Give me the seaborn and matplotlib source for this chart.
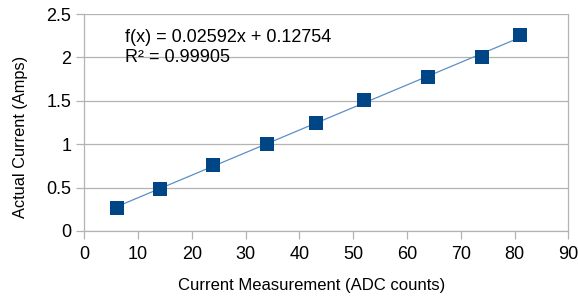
import matplotlib
matplotlib.use("Agg")
import matplotlib.pyplot as plt
import seaborn as sns
import numpy as np
import pandas as pd

adc_counts = [6, 14, 24, 34, 43, 52, 64, 74, 81]
actual_amps = [0.268, 0.487, 0.757, 1.006, 1.241, 1.509, 1.770, 2.008, 2.254]
x_ticks = [0, 10, 20, 30, 40, 50, 60, 70, 80, 90]
y_ticks = [0, 0.5, 1, 1.5, 2, 2.5]
y_tick_labels = ["0", "0.5", "1", "1.5", "2", "2.5"]
equation_text = "f(x) = 0.02592x + 0.12754\nR² = 0.99905"

sns.set_theme(style="white")
plt.rcParams['font.family'] = ['Liberation Sans', 'DejaVu Sans']

df = pd.DataFrame({"x": adc_counts, "y": actual_amps})

fig = plt.figure(figsize=(5.78, 3.02), dpi=100)
ax = fig.add_axes([0.1459, 0.2351, 0.8373, 0.7185])

sns.regplot(data=df, x="x", y="y", ax=ax, ci=None, scatter=False,
            line_kws=dict(color="#5b8fc7", lw=0.9), truncate=True)
sns.scatterplot(data=df, x="x", y="y", ax=ax, marker="s", s=100,
                color="#004586", edgecolor="#004586", linewidth=0, zorder=3)

ax.set_xlim(0, 90)
ax.set_ylim(0, 2.5)
ax.set_xticks(x_ticks)
ax.set_yticks(y_ticks)
ax.set_yticklabels(y_tick_labels)
ax.yaxis.grid(True, color="#b3b3b3", lw=0.9)
ax.xaxis.grid(False)
ax.set_axisbelow(True)
for side in ["left", "bottom", "right"]:
    ax.spines[side].set_visible(True)
    ax.spines[side].set_color("#b3b3b3")
    ax.spines[side].set_linewidth(0.9)
ax.spines["top"].set_visible(False)
ax.tick_params(axis="both", which="major", length=6, width=0.9, color="#b3b3b3",
               direction="out", labelsize=13, labelcolor="#000000",
               bottom=True, left=True)
ax.tick_params(axis="x", pad=5)
ax.tick_params(axis="y", pad=3.5)

ax.set_xlabel("Current Measurement (ADC counts)", fontsize=12, color="#000000")
ax.set_ylabel("Actual Current (Amps)", fontsize=11.8, color="#000000")
ax.xaxis.set_label_coords(0.469, -0.218)
ax.yaxis.set_label_coords(-0.117, 0.435)

ax.text(7.57, 2.325, equation_text, fontsize=13, color="#000000",
        va="top", ha="left", linespacing=1.2)

fig.savefig("out.png", dpi=100)
